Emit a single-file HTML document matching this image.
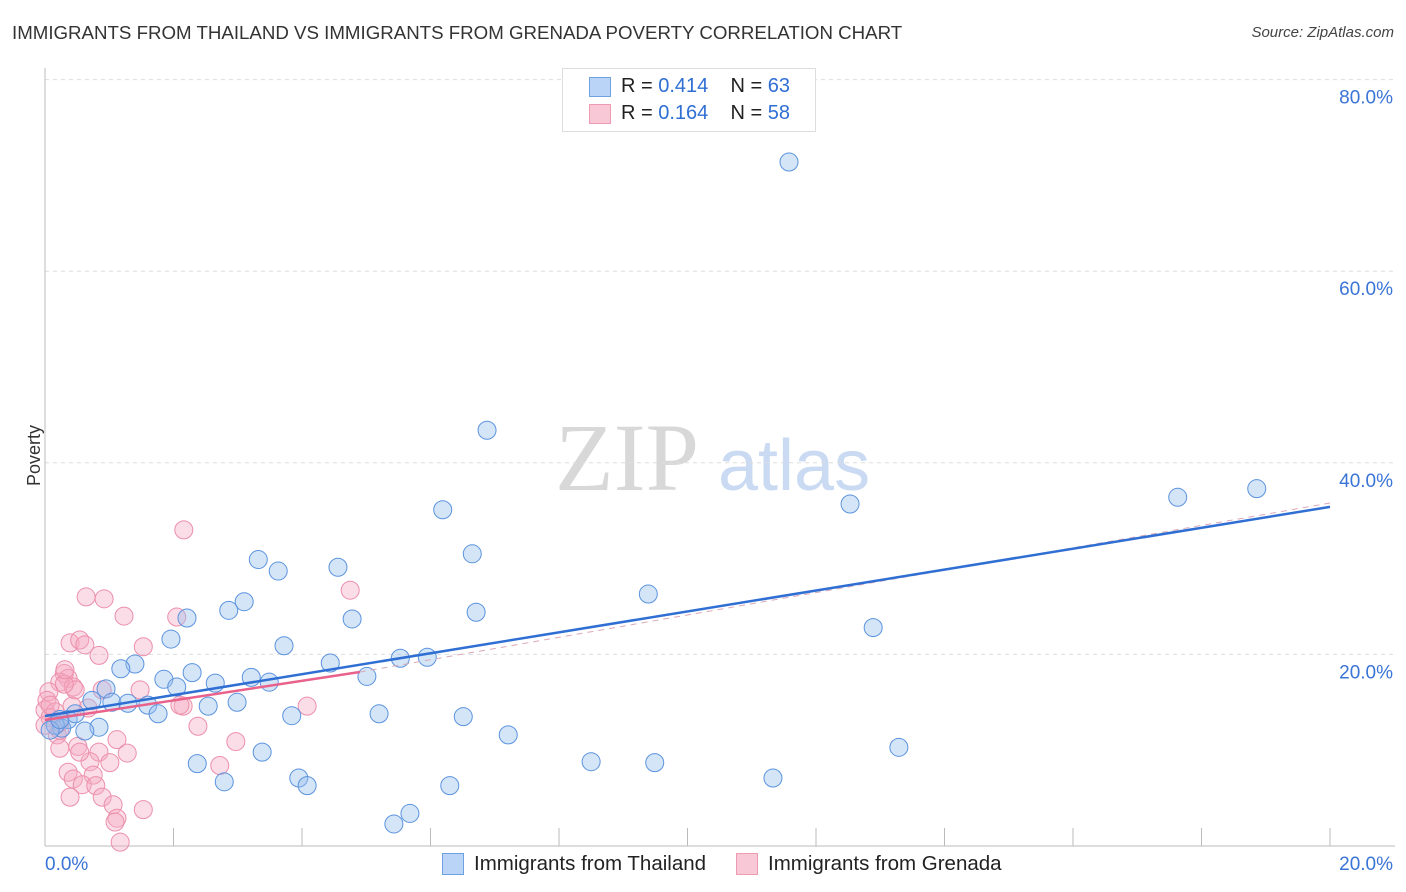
<!DOCTYPE html>
<html><head><meta charset="utf-8"><style>
body{margin:0;background:#fff;font-family:"Liberation Sans",sans-serif}
#wrap{position:relative;width:1406px;height:892px;overflow:hidden}
.t{position:absolute;white-space:nowrap}
</style></head><body>
<div id="wrap">
<div class="t" style="left:12px;top:22px;font-size:18.7px;color:#333">IMMIGRANTS FROM THAILAND VS IMMIGRANTS FROM GRENADA POVERTY CORRELATION CHART</div>
<div class="t" style="right:12px;top:24px;font-size:15px;color:#444;font-style:italic">Source: ZipAtlas.com</div>
<div class="t" style="left:4px;top:445px;font-size:18px;color:#333;transform:rotate(-90deg);transform-origin:center">Poverty</div>
<svg id="svg" width="1406" height="892" style="position:absolute;left:0;top:0"></svg>
<div style="position:absolute;left:562px;top:68px;width:252px;height:62px;border:1px solid #ddd;background:#fff;font-size:20px;color:#222">
 <div style="position:absolute;left:26px;top:8px;width:20px;height:18px;background:#b9d4f6;border:1px solid #6fa0e0"></div>
 <div class="t" style="left:58px;top:6px">R = <span style="color:#2f6fd3">0.414</span>&nbsp;&nbsp;&nbsp; N = <span style="color:#2f6fd3">63</span></div>
 <div style="position:absolute;left:26px;top:35px;width:20px;height:18px;background:#f9c8d6;border:1px solid #ee9ab3"></div>
 <div class="t" style="left:58px;top:33px">R = <span style="color:#2f6fd3">0.164</span>&nbsp;&nbsp;&nbsp; N = <span style="color:#2f6fd3">58</span></div>
</div>
<div style="position:absolute;left:442px;top:853px;font-size:20.5px;color:#222">
 <div style="position:absolute;left:0;top:0;width:20px;height:20px;background:#b9d4f6;border:1px solid #6fa0e0"></div>
 <div class="t" style="left:32px;top:-1px">Immigrants from Thailand</div></div>
<div style="position:absolute;left:736px;top:853px;font-size:20.5px;color:#222">
 <div style="position:absolute;left:0;top:0;width:20px;height:20px;background:#f9c8d6;border:1px solid #ee9ab3"></div>
 <div class="t" style="left:32px;top:-1px">Immigrants from Grenada</div></div>
</div>
<script>
const blueX=[11.58,6.88,6.19,12.53,17.63,18.86,6.65,3.32,3.63,4.56,3.10,2.86,2.21,4.78,6.71,9.39,12.89,1.96,3.72,1.40,1.18,4.44,5.53,5.95,5.01,2.29,1.85,2.05,2.65,3.21,3.49,0.95,0.73,1.04,1.29,1.60,2.54,2.99,1.76,3.84,5.20,6.51,7.21,13.29,3.38,0.84,0.62,0.36,0.26,0.16,0.08,0.47,2.37,2.79,3.95,4.08,6.30,8.50,9.49,11.33,5.68,5.43,0.23];
const blueY=[71.4,43.4,35.1,35.7,36.4,37.3,30.5,29.9,28.7,29.1,25.5,24.6,23.8,23.7,24.4,26.3,22.8,21.6,20.9,19.0,18.5,19.1,19.6,19.7,17.7,18.1,17.4,16.6,17.0,17.6,17.1,16.4,15.2,15.0,14.9,14.7,14.6,15.0,13.8,13.6,13.8,13.5,11.6,10.3,9.8,12.4,12.0,13.2,12.3,12.6,12.1,13.8,8.6,6.7,7.1,6.3,6.3,8.8,8.7,7.1,3.4,2.3,13.2];
const pinkX=[2.16,4.75,0.64,0.92,1.23,2.05,1.53,0.39,0.54,0.62,0.84,0.30,0.36,0.23,0.44,0.47,0.30,0.06,0.03,0.89,0.67,0.42,0.00,0.16,0.08,0.23,0.19,0.23,0.51,1.12,1.28,2.15,4.08,2.38,2.97,2.72,0.84,1.01,0.70,0.75,0.36,0.44,0.58,0.79,0.39,0.89,1.06,1.53,1.12,1.09,1.17,0.54,0.23,0.00,1.48,0.31,0.08,2.10];
const pinkY=[33.0,26.7,26.0,25.8,24.0,23.9,20.8,21.2,21.5,21.0,19.9,18.0,17.5,17.1,16.6,16.3,16.9,16.1,15.2,16.3,14.4,14.6,14.2,14.0,13.4,12.9,11.6,10.2,10.4,11.1,9.7,14.6,14.6,12.5,10.9,8.4,9.8,8.7,8.8,7.4,7.7,7.0,6.4,6.3,5.1,5.1,4.3,3.8,2.9,2.5,0.4,9.8,12.1,12.6,16.3,18.4,14.7,14.7];
const yTicks=[20,40,60,80];
const xTicks=[0,20];
const blueTrend=[13.57,35.4];
const pinkTrend=[13.15,18.16,4.9];
const X=v=>45+v*64.25, Y=v=>846-v*9.58;
const NS="http://www.w3.org/2000/svg", svg=document.getElementById('svg');
function mk(t,a){const e=document.createElementNS(NS,t);for(const k in a)e.setAttribute(k,a[k]);svg.appendChild(e);return e;}
let w=mk('text',{x:555,y:490,'font-size':96,fill:'#d8d8d8','font-family':'Liberation Serif,serif'});w.textContent='ZIP';


w=mk('text',{x:718,y:490,'font-size':72,fill:'#c9daf2','font-family':'Liberation Sans,sans-serif'});w.textContent='atlas';


for(const t of yTicks){
 const l=mk('line',{x1:45,x2:1395,y1:Y(t),y2:Y(t),stroke:'#ddd','stroke-dasharray':'4,4'});
 
 
 const tx=mk('text',{x:1393,y:Y(t)+24,'text-anchor':'end','font-size':19,fill:'#3a74d6','font-family':'Liberation Sans,sans-serif'});
 tx.textContent=t.toFixed(1)+'%';
 
 
}
let ax=mk('line',{x1:45,x2:45,y1:68,y2:846,stroke:'#bbb'});


ax=mk('line',{x1:45,x2:1395,y1:846,y2:846,stroke:'#bbb'});


for(let i=0;i<=10;i++){const x=X(i*2);const tk=mk('line',{x1:x,x2:x,y1:828,y2:846,stroke:'#bbb'});
 
 }
xTicks.forEach((t,i)=>{const tx=mk('text',{x:i?1393:45,y:870,'text-anchor':i?'end':'start','font-size':19,fill:'#3a74d6','font-family':'Liberation Sans,sans-serif'});
 tx.textContent=t.toFixed(1)+'%';
 
 });
pinkX.forEach((x,i)=>{const c=mk('circle',{cx:X(x),cy:Y(pinkY[i]),r:9,fill:'rgba(246,170,195,0.4)',stroke:'#ec8fab','stroke-width':1});
 
 });
blueX.forEach((x,i)=>{const c=mk('circle',{cx:X(x),cy:Y(blueY[i]),r:9,fill:'rgba(150,190,238,0.4)',stroke:'#5b93de','stroke-width':1});
 
 });
let ln=mk('line',{x1:X(pinkTrend[2]),y1:Y(pinkTrend[1]),x2:X(20),y2:Y(35.8),stroke:'#d9a9b8','stroke-width':1,'stroke-dasharray':'6,5'});


ln=mk('line',{x1:X(0),y1:Y(pinkTrend[0]),x2:X(pinkTrend[2]),y2:Y(pinkTrend[1]),stroke:'#e8628c','stroke-width':2.5});


ln=mk('line',{x1:X(0),y1:Y(blueTrend[0]),x2:X(20),y2:Y(blueTrend[1]),stroke:'#2f6fd3','stroke-width':2.5});


</script>
</body></html>
